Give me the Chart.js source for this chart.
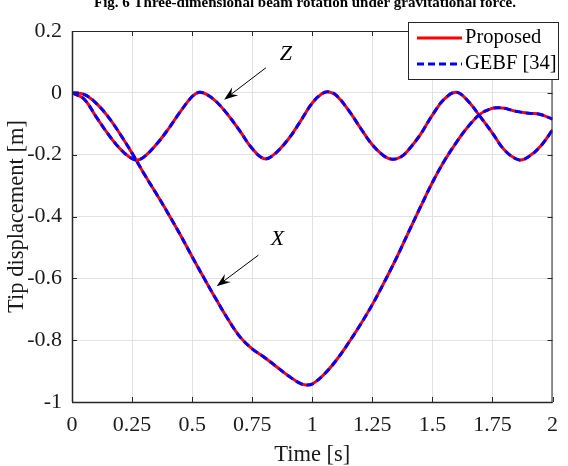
<!DOCTYPE html>
<html>
<head>
<meta charset="utf-8">
<script src="https://cdn.jsdelivr.net/npm/chart.js@4.4.0/dist/chart.umd.min.js"></script>
<style>
    html, body { margin: 0; padding: 0; background: #fff; }
    #wrap { width: 568px; height: 466px; }
</style>
</head>
<body>
<div id="wrap"><canvas id="beamChart" width="568" height="466"></canvas></div>
<script>
// Z component (tip displacement)
var zTime = [0, 0.05, 0.1, 0.15, 0.2, 0.24, 0.27, 0.3, 0.35, 0.4, 0.45, 0.5, 0.53, 0.56, 0.6, 0.65, 0.7, 0.75, 0.8, 0.84, 0.9, 0.95, 1.0, 1.04, 1.07, 1.1, 1.15, 1.2, 1.25, 1.3, 1.335, 1.37, 1.4, 1.45, 1.5, 1.55, 1.6, 1.65, 1.7, 1.75, 1.8, 1.86, 1.9, 1.95, 2.0];
var zProposed = [0, -0.02, -0.077, -0.133, -0.181, -0.208, -0.217, -0.207, -0.168, -0.118, -0.062, -0.012, 0.002, -0.005, -0.028, -0.072, -0.125, -0.18, -0.213, -0.2, -0.15, -0.093, -0.033, -0.003, 0.003, -0.008, -0.055, -0.113, -0.168, -0.205, -0.215, -0.207, -0.185, -0.135, -0.072, -0.02, 0.002, -0.028, -0.078, -0.13, -0.185, -0.217, -0.207, -0.173, -0.12];
var zGebf = [0, -0.02, -0.077, -0.133, -0.181, -0.208, -0.217, -0.207, -0.168, -0.118, -0.062, -0.012, 0.002, -0.005, -0.028, -0.072, -0.125, -0.18, -0.213, -0.2, -0.15, -0.093, -0.033, -0.003, 0.003, -0.008, -0.055, -0.113, -0.168, -0.205, -0.215, -0.207, -0.185, -0.135, -0.072, -0.02, 0.002, -0.028, -0.078, -0.13, -0.185, -0.217, -0.207, -0.173, -0.12];

// X component
var xTime = [0, 0.05, 0.1, 0.15, 0.2, 0.25, 0.3, 0.35, 0.4, 0.45, 0.5, 0.55, 0.6, 0.65, 0.7, 0.75, 0.8, 0.85, 0.9, 0.95, 0.975, 1.0, 1.05, 1.1, 1.15, 1.2, 1.25, 1.3, 1.35, 1.4, 1.45, 1.5, 1.55, 1.6, 1.65, 1.7, 1.75, 1.775, 1.8, 1.85, 1.9, 1.95, 2.0];
var xProposed = [0, -0.005, -0.033, -0.077, -0.133, -0.195, -0.262, -0.325, -0.39, -0.458, -0.53, -0.6, -0.668, -0.733, -0.79, -0.828, -0.855, -0.885, -0.915, -0.94, -0.945, -0.942, -0.91, -0.865, -0.81, -0.75, -0.685, -0.612, -0.535, -0.452, -0.37, -0.29, -0.22, -0.16, -0.108, -0.068, -0.05, -0.048, -0.05, -0.06, -0.066, -0.07, -0.085];
var xGebf = [0, -0.005, -0.033, -0.077, -0.133, -0.195, -0.262, -0.325, -0.39, -0.458, -0.53, -0.6, -0.668, -0.733, -0.79, -0.828, -0.855, -0.885, -0.915, -0.94, -0.945, -0.942, -0.91, -0.865, -0.81, -0.75, -0.685, -0.612, -0.535, -0.452, -0.37, -0.29, -0.22, -0.16, -0.108, -0.068, -0.05, -0.048, -0.05, -0.06, -0.066, -0.07, -0.085];

var xTickLabels = ["0", "0.25", "0.5", "0.75", "1", "1.25", "1.5", "1.75", "2"];
var yTickLabels = ["-1", "-0.8", "-0.6", "-0.4", "-0.2", "0", "0.2"];
var seriesNames = ["Proposed", "GEBF [34]"];

var SERIF = "'Liberation Serif', 'Times New Roman', serif";
var RED = "#ff0000";
var BLUE = "#0000ff";
var DASH = [7, 4];

function pts(t, v) {
    return t.map(function (x, i) { return { x: x, y: v[i] }; });
}

function arrow(ctx, x1, y1, x2, y2) {
    var a = Math.atan2(y2 - y1, x2 - x1);
    var len = 14, w = 5;
    ctx.beginPath();
    ctx.moveTo(x1, y1);
    ctx.lineTo(x2 - Math.cos(a) * 8, y2 - Math.sin(a) * 8);
    ctx.stroke();
    ctx.beginPath();
    ctx.moveTo(x2, y2);
    ctx.lineTo(x2 - len * Math.cos(a) + w * Math.sin(a), y2 - len * Math.sin(a) - w * Math.cos(a));
    ctx.lineTo(x2 - 9 * Math.cos(a), y2 - 9 * Math.sin(a));
    ctx.lineTo(x2 - len * Math.cos(a) - w * Math.sin(a), y2 - len * Math.sin(a) + w * Math.cos(a));
    ctx.closePath();
    ctx.fill();
}

// frame, inward ticks, labels with arrows, legend and caption
var extras = {
    id: "extras",
    afterDraw: function (chart) {
        var ctx = chart.ctx;
        var a = chart.chartArea;
        var xs = chart.scales.x, ys = chart.scales.y;
        ctx.save();

        ctx.strokeStyle = "#262626";
        ctx.lineWidth = 1;
        ctx.strokeRect(a.left + 0.5, a.top + 0.5, a.right - a.left - 1, a.bottom - a.top);
        ctx.beginPath();
        xs.ticks.forEach(function (t) {
            var px = Math.round(xs.getPixelForValue(t.value)) + 0.5;
            ctx.moveTo(px, a.bottom); ctx.lineTo(px, a.bottom - 5);
            ctx.moveTo(px, a.top); ctx.lineTo(px, a.top + 5);
        });
        ys.ticks.forEach(function (t) {
            var py = Math.round(ys.getPixelForValue(t.value)) + 0.5;
            ctx.moveTo(a.left, py); ctx.lineTo(a.left + 5, py);
            ctx.moveTo(a.right, py); ctx.lineTo(a.right - 5, py);
        });
        ctx.stroke();
        ctx.lineWidth = 1.5;
        ctx.beginPath();
        ctx.moveTo(a.left, a.bottom + 0.5); ctx.lineTo(a.right, a.bottom + 0.5);
        ctx.moveTo(a.left + 0.5, a.top); ctx.lineTo(a.left + 0.5, a.bottom);
        ctx.stroke();

        // component labels
        ctx.fillStyle = "#000";
        ctx.strokeStyle = "#000";
        ctx.lineWidth = 1;
        ctx.font = "italic 22px " + SERIF;
        ctx.textAlign = "center";
        ctx.textBaseline = "middle";
        ctx.fillText("Z", xs.getPixelForValue(0.89), ys.getPixelForValue(0.125));
        arrow(ctx, xs.getPixelForValue(0.807), ys.getPixelForValue(0.081),
            xs.getPixelForValue(0.633), ys.getPixelForValue(-0.022));
        ctx.fillText("X", xs.getPixelForValue(0.855), ys.getPixelForValue(-0.474));
        arrow(ctx, xs.getPixelForValue(0.776), ys.getPixelForValue(-0.525),
            xs.getPixelForValue(0.602), ys.getPixelForValue(-0.626));

        // legend
        var lx = 408, ly = 22, lw = 150, lh = 57;
        ctx.fillStyle = "#fff";
        ctx.fillRect(lx, ly, lw, lh);
        ctx.strokeStyle = "#262626";
        ctx.strokeRect(lx + 0.5, ly + 0.5, lw, lh);
        ctx.lineWidth = 3;
        ctx.strokeStyle = RED;
        ctx.beginPath(); ctx.moveTo(417, 38); ctx.lineTo(462, 38); ctx.stroke();
        ctx.strokeStyle = BLUE;
        ctx.setLineDash(DASH);
        ctx.beginPath(); ctx.moveTo(417, 64); ctx.lineTo(462, 64); ctx.stroke();
        ctx.setLineDash([]);
        ctx.fillStyle = "#000";
        ctx.font = "20.5px " + SERIF;
        ctx.textAlign = "left";
        ctx.fillText(seriesNames[0], 465, 38);
        ctx.fillText(seriesNames[1], 465, 64);

        // caption (cut at the top edge)
        ctx.font = "bold 15px " + SERIF;
        ctx.textAlign = "center";
        ctx.textBaseline = "alphabetic";
        ctx.fillText("Fig. 6 Three-dimensional beam rotation under gravitational force.", 305, 7);
        ctx.restore();
    }
};

var ctx = document.getElementById("beamChart").getContext("2d");

new Chart(ctx, {
    type: "line",
    data: {
        datasets: [{
            label: seriesNames[1],
            data: pts(zTime, zGebf),
            borderColor: BLUE,
            borderDash: DASH,
            borderWidth: 3,
            pointRadius: 0,
            tension: 0.4
        }, {
            label: seriesNames[1],
            data: pts(xTime, xGebf),
            borderColor: BLUE,
            borderDash: DASH,
            borderWidth: 3,
            pointRadius: 0,
            tension: 0.4
        }, {
            label: seriesNames[0],
            data: pts(zTime, zProposed),
            borderColor: RED,
            borderWidth: 3,
            pointRadius: 0,
            tension: 0.4
        }, {
            label: seriesNames[0],
            data: pts(xTime, xProposed),
            borderColor: RED,
            borderWidth: 3,
            pointRadius: 0,
            tension: 0.4
        }]
    },
    options: {
        responsive: false,
        animation: false,
        devicePixelRatio: 1,
        layout: { padding: { top: 31, right: 8, left: 0, bottom: 0 } },
        plugins: {
            legend: { display: false },
            tooltip: { enabled: false }
        },
        scales: {
            x: {
                type: "linear",
                min: 0,
                max: 2,
                afterFit: function (s) { s.height = 64; },
                ticks: {
                    stepSize: 0.25,
                    padding: 10,
                    color: "#1a1a1a",
                    font: { family: SERIF, size: 22 },
                    callback: function (v, i) { return xTickLabels[i]; }
                },
                grid: { color: "#e2e2e2", drawTicks: false },
                border: { display: false },
                title: {
                    display: true,
                    text: "Time [s]",
                    color: "#1a1a1a",
                    font: { family: SERIF, size: 22.5, lineHeight: 1 },
                    padding: { top: 0, bottom: 0 }
                }
            },
            y: {
                min: -1,
                max: 0.2,
                afterFit: function (s) { s.width = 72; },
                ticks: {
                    stepSize: 0.2,
                    padding: 10,
                    color: "#1a1a1a",
                    font: { family: SERIF, size: 22 },
                    callback: function (v, i) { return yTickLabels[i]; }
                },
                grid: { color: "#e2e2e2", drawTicks: false },
                border: { display: false },
                title: {
                    display: true,
                    text: "Tip displacement [m]",
                    color: "#1a1a1a",
                    font: { family: SERIF, size: 22.5, lineHeight: 1 },
                    padding: { top: 6, bottom: 0 }
                }
            }
        }
    },
    plugins: [extras]
});
</script>
</body>
</html>
